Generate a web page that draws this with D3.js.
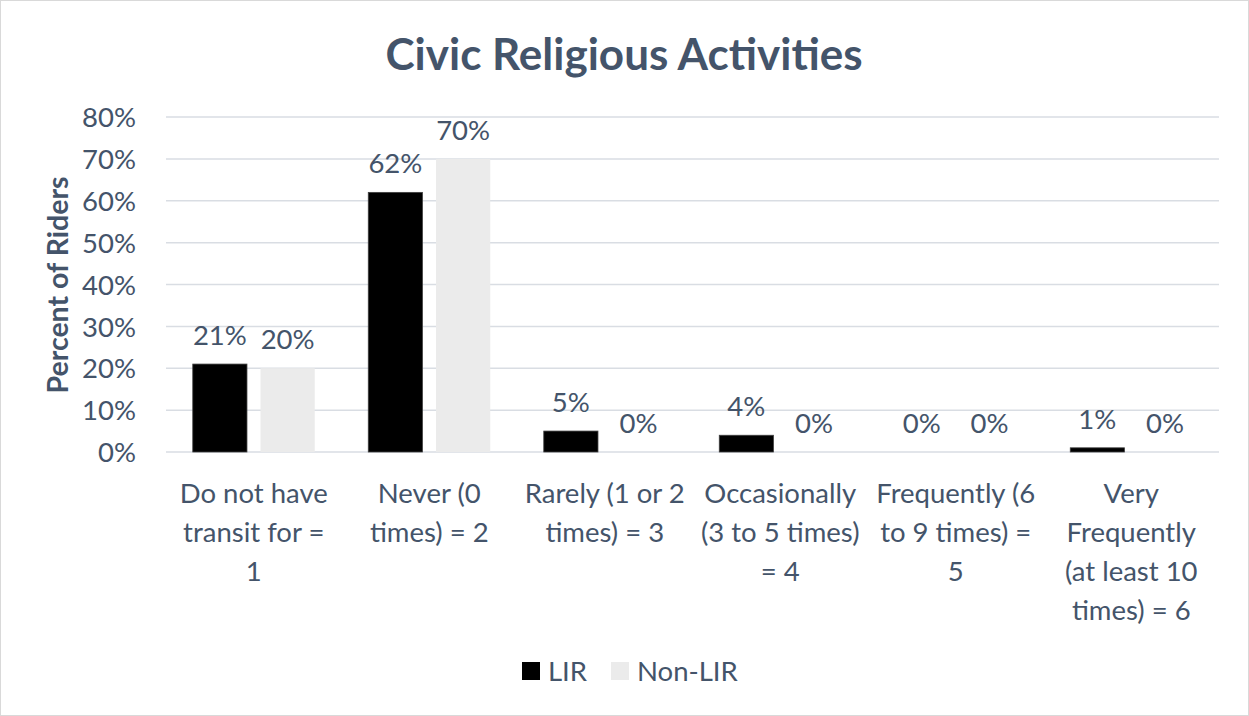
<!DOCTYPE html>
<html>
<head>
<meta charset="utf-8">
<script src="https://cdn.jsdelivr.net/npm/d3@7"></script>
<style>
  html, body { margin: 0; padding: 0; background: #fff; }
  svg text { font-family: Lato, "Open Sans", sans-serif; fill: #44546A; }
</style>
</head>
<body>
<svg id="chart" width="1249" height="716"></svg>
<script>
// Survey categories (each label split into its wrapped lines)
const categories = [
  ["Do not have", "transit for =", "1"],
  ["Never (0", "times) = 2"],
  ["Rarely (1 or 2", "times) = 3"],
  ["Occasionally", "(3 to 5 times)", "= 4"],
  ["Frequently (6", "to 9 times) =", "5"],
  ["Very", "Frequently", "(at least 10", "times) = 6"]
];
const seriesNames = ["LIR", "Non-LIR"];
const lirValues = [21, 62, 5, 4, 0, 1];
const nonLirValues = [20, 70, 0, 0, 0, 0];
const yTicks = [0, 10, 20, 30, 40, 50, 60, 70, 80];

const colors = { "LIR": "#000000", "Non-LIR": "#EBEBEB" };
const FS = 27.5;

const svg = d3.select("#chart");
const W = 1249, H = 716;
const margin = { left: 166, right: 30, top: 117, bottom: 264 };
const plotW = W - margin.left - margin.right;
const plotH = H - margin.top - margin.bottom;

// outer border
svg.append("rect")
  .attr("x", 0.5).attr("y", 0.5)
  .attr("width", W - 1).attr("height", H - 1)
  .attr("fill", "#fff").attr("stroke", "#D9D9D9");

const data = categories.map((c, i) => ({
  idx: i,
  lines: c,
  values: [
    { key: "LIR", value: lirValues[i] },
    { key: "Non-LIR", value: nonLirValues[i] }
  ]
}));

const x0 = d3.scaleBand()
  .domain(data.map(d => d.idx))
  .range([margin.left, margin.left + plotW])
  .paddingInner(0.305)
  .paddingOuter(0.1525);

const x1 = d3.scaleBand()
  .domain(seriesNames)
  .range([0, x0.bandwidth()])
  .paddingInner(0.2);

const y = d3.scaleLinear()
  .domain([0, 80])
  .range([margin.top + plotH, margin.top]);

// gridlines
svg.append("g")
  .selectAll("line")
  .data(yTicks)
  .join("line")
  .attr("x1", margin.left).attr("x2", margin.left + plotW)
  .attr("y1", d => y(d)).attr("y2", d => y(d))
  .attr("stroke", "#D9DDE3").attr("stroke-width", 1.5);

// y tick labels
const yAxis = d3.axisLeft(y)
  .tickValues(yTicks)
  .tickFormat(d => d + "%")
  .tickSize(0)
  .tickPadding(30);
const yg = svg.append("g")
  .attr("transform", `translate(${margin.left},0)`)
  .call(yAxis);
yg.select(".domain").remove();
yg.selectAll("text")
  .attr("font-size", FS)
  .attr("dy", "0.35em")
  .style("fill", "#44546A");

// bars
const groups = svg.append("g")
  .selectAll("g")
  .data(data)
  .join("g")
  .attr("transform", d => `translate(${x0(d.idx)},0)`);

groups.selectAll("rect")
  .data(d => d.values)
  .join("rect")
  .attr("x", d => x1(d.key))
  .attr("width", x1.bandwidth())
  .attr("y", d => y(d.value))
  .attr("height", d => y(0) - y(d.value))
  .attr("fill", d => colors[d.key])
  .attr("stroke", d => d.key === "LIR" && d.value > 0 ? "#404040" : "none")
  .attr("stroke-width", 0.8);

// value labels
groups.selectAll("text.val")
  .data(d => d.values)
  .join("text")
  .attr("class", "val")
  .attr("x", d => x1(d.key) + x1.bandwidth() / 2)
  .attr("y", d => y(d.value) - 19)
  .attr("text-anchor", "middle")
  .attr("font-size", FS)
  .text(d => d.value + "%");

// category labels
const catG = svg.append("g");
data.forEach(d => {
  const cx = x0(d.idx) + x0.bandwidth() / 2;
  const t = catG.append("text")
    .attr("text-anchor", "middle")
    .attr("font-size", FS);
  d.lines.forEach((ln, j) => {
    t.append("tspan")
      .attr("x", cx)
      .attr("y", 503 + j * 39)
      .text(ln);
  });
});

// title
svg.append("text")
  .attr("x", 624).attr("y", 70)
  .attr("text-anchor", "middle")
  .attr("font-size", 44)
  .attr("font-weight", "bold")
  .text("Civic Religious Activities");

// y-axis title
svg.append("text")
  .attr("transform", `translate(68,285) rotate(-90)`)
  .attr("text-anchor", "middle")
  .attr("font-size", FS + 1)
  .attr("font-weight", "bold")
  .text("Percent of Riders");

// legend
const legend = svg.append("g").attr("transform", "translate(522,662)");
const legendX = [0, 89];
seriesNames.forEach((s, i) => {
  const g = legend.append("g").attr("transform", `translate(${legendX[i]},0)`);
  g.append("rect")
    .attr("width", 18).attr("height", 18)
    .attr("fill", colors[s]);
  g.append("text")
    .attr("x", 26).attr("y", 19)
    .attr("font-size", FS)
    .text(s);
});
</script>
</body>
</html>
